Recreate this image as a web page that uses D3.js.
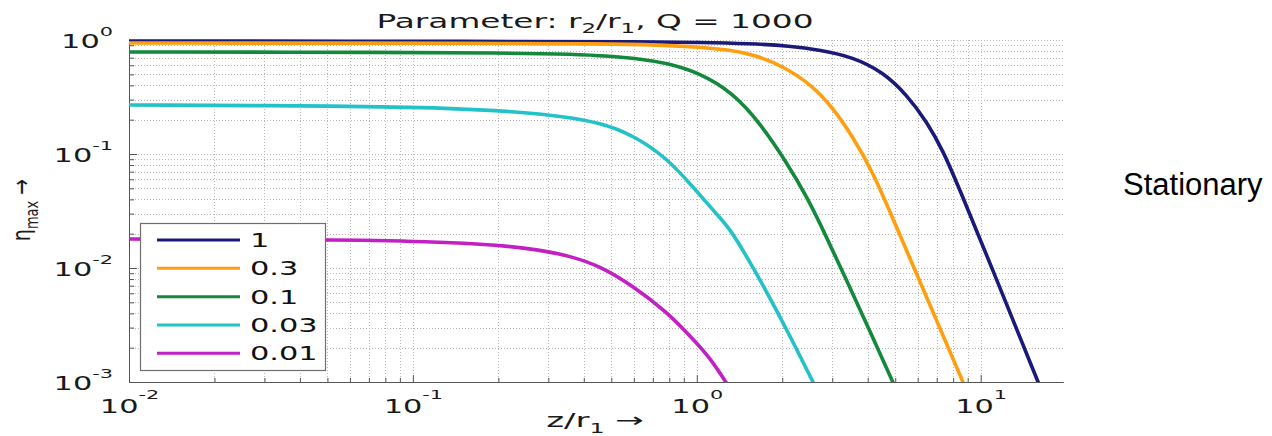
<!DOCTYPE html>
<html>
<head>
<meta charset="utf-8">
<script src="https://cdn.jsdelivr.net/npm/d3@7"></script>
<style>
  body { margin: 0; background: #fff; }
  svg { display: block; }
</style>
</head>
<body>
<div id="chart"></div>
<script>
// legend entries (r2/r1) and their colours
const ratios = ["1", "0.3", "0.1", "0.03", "0.01"];
const colors = ["#1a1a78", "#ff9f10", "#13893b", "#22c2c8", "#c21fc4"];

// z/r1 and eta_max, one pair per curve
const z_1    = [0.01, 0.2027, 0.684, 1.026, 1.539, 2.130, 2.716, 3.548, 4.528, 5.497, 6.47, 7.36, 8.45, 10.78, 15.92, 17.54];
const eta_1  = [0.980, 0.974, 0.964, 0.954, 0.932, 0.886, 0.817, 0.709, 0.524, 0.330, 0.191, 0.108, 0.0483, 0.0111, 0.001, 0.000557];

const z_03   = [0.01, 0.2027, 0.456, 0.741, 1.026, 1.309, 1.603, 2.013, 2.566, 3.018, 3.548, 4.175, 5.07, 6.63, 8.66, 9.55];
const eta_03 = [0.941, 0.937, 0.926, 0.904, 0.868, 0.817, 0.739, 0.591, 0.395, 0.253, 0.141, 0.0695, 0.0224, 0.00473, 0.001, 0.000568];

const z_01   = [0.01, 0.0901, 0.2027, 0.3297, 0.456, 0.606, 0.785, 1.026, 1.342, 1.670, 2.078, 2.445, 2.83, 3.38, 4.07, 4.91, 5.41];
const eta_01 = [0.785, 0.780, 0.769, 0.754, 0.731, 0.695, 0.628, 0.513, 0.343, 0.187, 0.0834, 0.0420, 0.0199, 0.00769, 0.0028, 0.001, 0.000568];

const z_003   = [0.01, 0.060, 0.1352, 0.2380, 0.3297, 0.456, 0.596, 0.785, 0.970, 1.178, 1.309, 1.577, 1.917, 2.254, 2.566, 2.83];
const eta_003 = [0.269, 0.264, 0.253, 0.2335, 0.2154, 0.189, 0.1468, 0.0922, 0.0514, 0.0293, 0.0222, 0.0102, 0.0042, 0.00191, 0.001, 0.000616];

const z_001   = [0.01, 0.0511, 0.1148, 0.2027, 0.2799, 0.357, 0.456, 0.596, 0.785, 0.970, 1.114, 1.267, 1.374];
const eta_001 = [0.01796, 0.01778, 0.01708, 0.0159, 0.0144, 0.01275, 0.01042, 0.00695, 0.00411, 0.00238, 0.001625, 0.001, 0.000724];

const zs   = [z_1, z_03, z_01, z_003, z_001];
const etas = [eta_1, eta_03, eta_01, eta_003, eta_001];

// decade ticks
const xTicks = [0.01, 0.1, 1, 10];
const yTicks = [0.001, 0.01, 0.1, 1];

const W = 1272, H = 436;
const plot = {left: 129, right: 1063, top: 40, bottom: 382};
const SX = 1.6;   // the figure is stretched sideways
const FONT = "'DejaVu Sans', Verdana, sans-serif";

const svg = d3.select("#chart").append("svg")
  .attr("width", W).attr("height", H)
  .style("background", "#fff");

const x = d3.scaleLog().domain([0.01, 19.5]).range([plot.left, plot.right]);
const y = d3.scaleLog().domain([0.001, 1]).range([plot.bottom, plot.top]);

// dotted grid
const grid = svg.append("g")
  .attr("stroke", "#b8b8b8").attr("stroke-width", 1).attr("stroke-dasharray", "1,2");
grid.selectAll("line.gx").data(x.ticks()).join("line")
  .attr("class", "gx")
  .attr("x1", d => Math.round(x(d)) + 0.5).attr("x2", d => Math.round(x(d)) + 0.5)
  .attr("y1", plot.top).attr("y2", plot.bottom);
grid.selectAll("line.gy").data(y.ticks()).join("line")
  .attr("class", "gy")
  .attr("y1", d => Math.round(y(d)) + 0.5).attr("y2", d => Math.round(y(d)) + 0.5)
  .attr("x1", plot.left).attr("x2", plot.right);

// axes: major ticks with labels, minor ticks without
const minorX = x.ticks().filter(d => !xTicks.includes(d));
const minorY = y.ticks().filter(d => !yTicks.includes(d));

const gxMinor = svg.append("g").attr("transform", `translate(0,${plot.bottom})`)
  .call(d3.axisBottom(x).tickValues(minorX).tickSize(-4).tickSizeOuter(0).tickFormat(""));
const gx = svg.append("g").attr("transform", `translate(0,${plot.bottom})`)
  .call(d3.axisBottom(x).tickValues(xTicks).tickSize(-7).tickSizeOuter(0));
const gyMinor = svg.append("g").attr("transform", `translate(${plot.left},0)`)
  .call(d3.axisLeft(y).tickValues(minorY).tickSize(-5).tickSizeOuter(0).tickFormat(""));
const gy = svg.append("g").attr("transform", `translate(${plot.left},0)`)
  .call(d3.axisLeft(y).tickValues(yTicks).tickSize(-8).tickSizeOuter(0));

[gxMinor, gx, gyMinor, gy].forEach(g => {
  g.select(".domain").attr("stroke", "#555");
  g.selectAll(".tick line").attr("stroke", "#555");
});

function powLabel(sel, tx, ty, anchor, expDy) {
  sel.each(function(d) {
    const t = d3.select(this);
    t.text(null).attr("x", 0).attr("y", 0).attr("dy", null)
      .attr("fill", "#1a1a1a")
      .attr("font-family", FONT).attr("font-size", 19)
      .attr("text-anchor", anchor)
      .attr("transform", `translate(${tx},${ty}) scale(${SX},1)`);
    t.append("tspan").text("10");
    t.append("tspan").attr("dy", expDy).attr("font-size", 13)
      .text(Math.round(Math.log10(d)));
  });
}
powLabel(gx.selectAll(".tick text"), 0, 31, "middle", -14);
powLabel(gy.selectAll(".tick text"), -16, 7.5, "end", -12.5);

// curves
svg.append("clipPath").attr("id", "clip")
  .append("rect")
  .attr("x", plot.left).attr("y", plot.top - 2)
  .attr("width", plot.right - plot.left).attr("height", plot.bottom - plot.top + 2);

const line = d3.line()
  .x(d => x(d[0])).y(d => y(d[1]))
  .curve(d3.curveBasis);

svg.append("g").attr("clip-path", "url(#clip)")
  .selectAll("path").data(ratios).join("path")
  .attr("d", (r, i) => line(zs[i].map((z, k) => [z, etas[i][k]])))
  .attr("fill", "none")
  .attr("stroke", (r, i) => colors[i])
  .attr("stroke-width", 3.6)
  .attr("stroke-linejoin", "round");

// legend
const lg = svg.append("g");
lg.append("rect")
  .attr("x", 140.5).attr("y", 223.5).attr("width", 185).attr("height", 147)
  .attr("fill", "#fff").attr("stroke", "#6e6e6e").attr("stroke-width", 1.2);
const rows = lg.selectAll("g.row").data(ratios).join("g")
  .attr("class", "row")
  .attr("transform", (d, i) => `translate(0,${240 + i * 28.33})`);
rows.append("line")
  .attr("x1", 157).attr("x2", 240)
  .attr("stroke", (d, i) => colors[i]).attr("stroke-width", 3);
rows.append("text")
  .attr("transform", `translate(250,7) scale(${SX},1)`)
  .attr("font-family", FONT).attr("font-size", 19).attr("fill", "#111")
  .text(d => d);

// title
const title = svg.append("text")
  .attr("transform", "translate(595,28) scale(1.64,1)")
  .attr("text-anchor", "middle")
  .attr("font-family", FONT).attr("font-size", 20).attr("fill", "#1a1a1a");
title.append("tspan").text("Parameter: r");
title.append("tspan").attr("font-size", 14).attr("dy", 5).text("2");
title.append("tspan").attr("dy", -5).text("/r");
title.append("tspan").attr("font-size", 14).attr("dy", 5).text("1");
title.append("tspan").attr("dy", -5).text(", Q = 1000");

// x label
const xl = svg.append("text")
  .attr("transform", "translate(595,427) scale(1.7,1)")
  .attr("text-anchor", "middle")
  .attr("font-family", FONT).attr("font-size", 20).attr("fill", "#1a1a1a");
xl.append("tspan").text("z/r");
xl.append("tspan").attr("font-size", 14).attr("dy", 6).text("1");
xl.append("tspan").attr("dy", -6).text(" \u2192");

// y label
const yl = svg.append("text")
  .attr("transform", "translate(30,210) scale(1.35,1) rotate(-90)")
  .attr("text-anchor", "middle")
  .attr("font-family", FONT).attr("font-size", 19).attr("fill", "#1a1a1a");
yl.append("tspan").text("\u03b7");
yl.append("tspan").attr("font-size", 13).attr("dy", 6).text("max");
yl.append("tspan").attr("dy", -6).text(" \u2192");

// side note
svg.append("text")
  .attr("x", 1123).attr("y", 195)
  .attr("font-family", "'Liberation Sans', Arial, sans-serif")
  .attr("font-size", 31).attr("fill", "#000")
  .text("Stationary");
</script>
</body>
</html>
